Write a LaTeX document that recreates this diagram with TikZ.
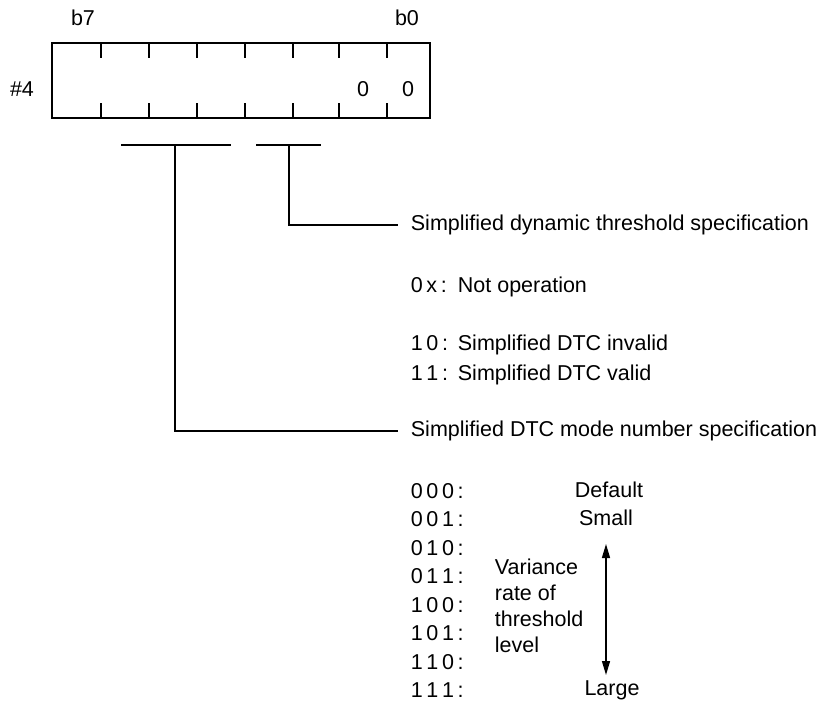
\documentclass[tikz,border=0pt]{standalone}
\usepackage{fontspec}
\setmainfont{Liberation Sans}
\usetikzlibrary{arrows.meta}
\newcommand{\gp}{\hspace{0.17em}}
\begin{document}
\begin{tikzpicture}[x=0.5pt, y=-0.5pt, line width=0.9pt,
    txt/.style={inner sep=0pt, font=\fontsize{10.75}{13}\selectfont},
    lbl/.style={txt, anchor=base west},
    spec/.style={txt, anchor=west, inner xsep=6pt}]
    \useasboundingbox (0,0) rectangle (826,709);

    % Registro #4
    \draw (52,43) rectangle (430,118);
    \foreach \x in {100.7,149,197,245,293,339,386.7} {
        \draw (\x,43) -- (\x,58);
        \draw (\x,118) -- (\x,103);
    }
    \node[txt] (b7) at (83,18) {b7};
    \node[txt] (b0) at (407,18) {b0};
    \node[txt] (reg) at (22,89) {\#4};
    \node[txt] (bit1) at (363,89) {0};
    \node[txt] (bit0) at (408,89) {0};

    % Parentesi dei campi
    \coordinate (modeL) at (121,145);
    \coordinate (modeR) at (231,145);
    \coordinate (modeT) at (175,145);
    \coordinate (dtcL) at (256,145);
    \coordinate (dtcR) at (321,145);
    \coordinate (dtcT) at (289,145);
    \draw (modeL) -- (modeR);
    \draw (dtcL) -- (dtcR);

    % Specifica soglia dinamica
    \node[spec] (dtcspec) at (398,225) {Simplified dynamic threshold specification};
    \draw (dtcT) |- (dtcspec.west);
    \node[lbl] (c0x) at (410,292) {0\gp x\gp:};
    \node[lbl] (d0x) at (457,292) {Not operation};
    \node[lbl] (c10) at (410,350) {1\gp 0\gp:};
    \node[lbl] (d10) at (457,350) {Simplified DTC invalid};
    \node[lbl] (c11) at (410,380) {1\gp 1\gp:};
    \node[lbl] (d11) at (457,380) {Simplified DTC valid};

    % Numero di modo DTC
    \node[spec] (modespec) at (398,431) {Simplified DTC mode number specification};
    \draw (modeT) |- (modespec.west);
    \foreach \a/\b/\c [count=\i from 0] in {0/0/0,0/0/1,0/1/0,0/1/1,1/0/0,1/0/1,1/1/0,1/1/1} {
        \node[lbl] (m\i) at (410,498+\i*28.5) {\a\gp\b\gp\c\gp:};
    }
    \node[txt] (default) at (609,490) {Default};
    \node[txt] (small) at (606,518) {Small};
    \node[txt] (large) at (612,690) {Large};
    \node[txt, anchor=west, align=left] (variance) at (494,606) {Variance\\rate of\\threshold\\level};
    \coordinate (arrtop) at (606,544);
    \coordinate (arrbot) at (606,675);
    \draw[{Triangle[width=4pt,length=7pt]}-{Triangle[width=4pt,length=7pt]}, line width=0.7pt] (arrtop) -- (arrbot);
\end{tikzpicture}
\end{document}
